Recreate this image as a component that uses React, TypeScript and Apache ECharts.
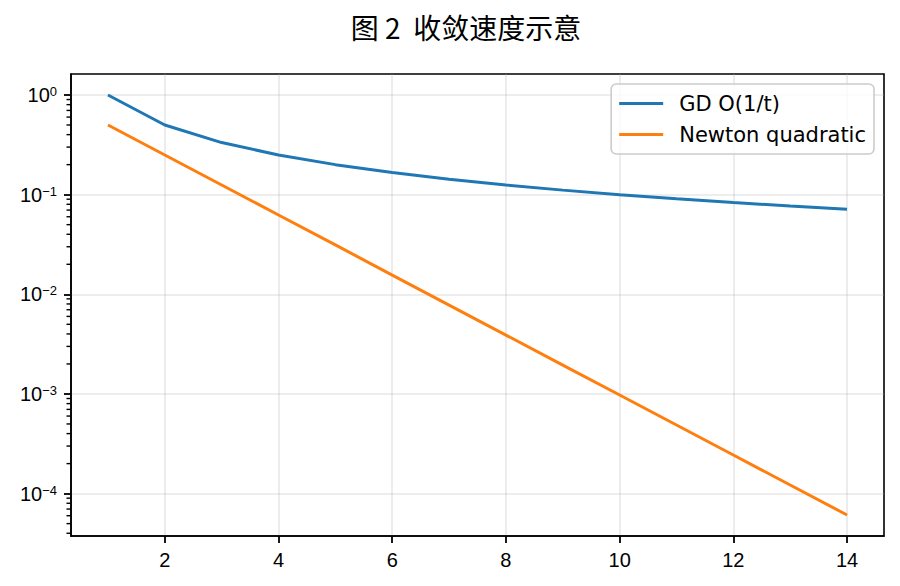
import React, { useEffect, useRef } from "react";
import * as echarts from "echarts";

const titleText = "图 2  收敛速度示意";
const steps = [1, 2, 3, 4, 5, 6, 7, 8, 9, 10, 11, 12, 13, 14];
const gdValues = [1.0, 0.5, 0.333, 0.25, 0.2, 0.167, 0.143, 0.125, 0.111, 0.1, 0.0909, 0.0833, 0.0769, 0.0714];
const newtonValues = [0.5, 0.25, 0.125, 0.0625, 0.0313, 0.0156, 0.0078, 0.0039, 0.00195, 0.000977, 0.000488, 0.000244, 0.000122, 0.000061];
const seriesNames = ["GD O(1/t)", "Newton quadratic"];
const xTicks = [2, 4, 6, 8, 10, 12, 14];
const yTicks = [1e-4, 1e-3, 1e-2, 1e-1, 1];
const minorMultipliers = [2, 3, 4, 5, 6, 7, 8, 9];
const minorDecades = [1e-5, 1e-4, 1e-3, 1e-2, 1e-1, 1];

const FONT = "DejaVu Sans";
const TICK_FONT = "Liberation Sans";

export default function App() {
  const ref = useRef<HTMLDivElement>(null);
  useEffect(() => {
    if (!ref.current) return;
    const chart = echarts.init(ref.current, undefined, { renderer: "svg" });
    const xMin = 0.35;
    const xMax = 14.65;
    const yMin = 3.755e-5;
    const yMax = 1.624;
    const minorTicks: number[][] = [];
    minorDecades.forEach((d) =>
      minorMultipliers.forEach((m) => {
        const v = +(d * m).toPrecision(6);
        if (v >= yMin && v <= yMax) minorTicks.push([xMin, v]);
      })
    );
    const fmtPow = (v: number) => {
      const e = Math.round(Math.log10(v));
      const s = e < 0 ? "\u2212" + -e : String(e);
      return `{b|10}{s|${s}}`;
    };
    chart.setOption({
      animation: false,
      title: {
        text: titleText,
        left: 466,
        textAlign: "center",
        top: 13,
        padding: 0,
        textStyle: { fontFamily: "Noto Sans CJK SC", fontSize: 28, fontWeight: "normal", color: "#000" },
      },
      grid: {
        left: 71,
        right: 16,
        top: 74,
        bottom: 50,
        show: true,
        borderColor: "#000",
        borderWidth: 1.6,
        backgroundColor: "transparent",
      },
      legend: {
        orient: "vertical",
        right: 26,
        top: 84,
        padding: [9, 8, 9, 8],
        itemGap: 10,
        itemWidth: 44,
        itemHeight: 3,
        icon: "rect",
        backgroundColor: "rgba(255,255,255,0.8)",
        borderColor: "#cccccc",
        borderWidth: 1.6,
        borderRadius: 5,
        textStyle: { fontFamily: FONT, fontSize: 21, color: "#000", padding: [0, 0, 0, 11], lineHeight: 20 },
        data: seriesNames,
      },
      xAxis: {
        type: "value",
        min: xMin,
        max: xMax,
        axisLine: { show: true, onZero: false, lineStyle: { color: "#000", width: 1.6 } },
        axisTick: { show: true, length: 7, lineStyle: { color: "#000", width: 1.8 }, customValues: xTicks },
        axisLabel: { fontFamily: TICK_FONT, fontSize: 20, color: "#000", margin: 14, customValues: xTicks },
        splitLine: { show: true, lineStyle: { color: "#b0b0b0", opacity: 0.3, width: 1.6 } },
      },
      yAxis: {
        type: "log",
        min: yMin,
        max: yMax,
        axisLine: { show: true, onZero: false, lineStyle: { color: "#000", width: 1.6 } },
        axisTick: { show: true, length: 7, lineStyle: { color: "#000", width: 1.8 }, customValues: yTicks },
        axisLabel: {
          fontFamily: TICK_FONT,
          color: "#000",
          margin: 14,
          customValues: yTicks,
          formatter: fmtPow,
          rich: {
            b: { fontFamily: TICK_FONT, fontSize: 20, lineHeight: 20, color: "#000" },
            s: { fontFamily: TICK_FONT, fontSize: 13, lineHeight: 14, verticalAlign: "top", color: "#000" },
          },
        },
        splitLine: { show: true, lineStyle: { color: "#b0b0b0", opacity: 0.3, width: 1.6 } },
      },
      series: [
        {
          name: seriesNames[0],
          type: "line",
          data: steps.map((t, i) => [t, gdValues[i]]),
          showSymbol: false,
          color: "#1f77b4",
          lineStyle: { width: 3, color: "#1f77b4" },
          z: 3,
        },
        {
          name: seriesNames[1],
          type: "line",
          data: steps.map((t, i) => [t, newtonValues[i]]),
          showSymbol: false,
          color: "#ff7f0e",
          lineStyle: { width: 3, color: "#ff7f0e" },
          z: 3,
        },
        {
          name: "minor ticks",
          type: "custom",
          clip: false,
          silent: true,
          data: minorTicks,
          renderItem: (_params: any, api: any) => {
            const p = api.coord([api.value(0), api.value(1)]);
            return {
              type: "line",
              shape: { x1: p[0] - 4.5, y1: p[1], x2: p[0], y2: p[1] },
              style: { stroke: "#000", lineWidth: 1.4 },
            };
          },
          z: 4,
        },
      ],
    });
    return () => chart.dispose();
  }, []);
  return (
    <>
      <style>{"body{margin:0} svg text{white-space:pre}"}</style>
      <div ref={ref} style={{ width: 900, height: 586 }} />
    </>
  );
}
